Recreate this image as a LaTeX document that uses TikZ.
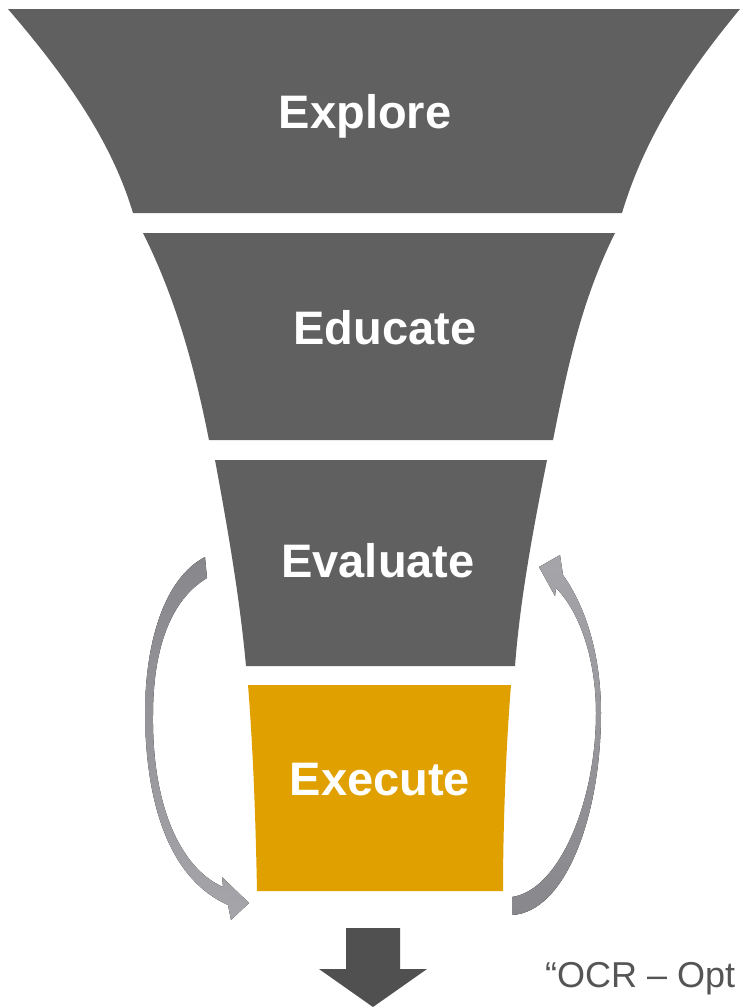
\documentclass[tikz,border=0pt]{standalone}
\usepackage{fontspec}
\setmainfont{Liberation Sans}
\definecolor{funnelgray}{HTML}{606060}
\definecolor{execgold}{HTML}{E0A100}
\definecolor{loopdark}{HTML}{88888C}
\definecolor{looplight}{HTML}{A6A6AA}
\definecolor{downgray}{HTML}{505050}
\definecolor{notegray}{HTML}{555555}
\tikzset{
  stage/.style={fill=funnelgray, draw=none},
  stagelabel/.style={anchor=base, text=white, font=\fontsize{47}{50}\selectfont\bfseries, inner sep=0pt},
  looparrowL/.style={top color=loopdark, bottom color=looplight, draw=none},
  looparrowR/.style={top color=looplight, bottom color=loopdark, draw=none},
}
\begin{document}
\begin{tikzpicture}[x=1pt,y=-1pt]
\useasboundingbox (0,0) rectangle (743,1007);
% Explore
\fill[stage] (8,9) -- (740,9) .. controls (681,80) and (643,143) .. (622,213)
  -- (133,213) .. controls (112,143) and (69,80) .. (8,9) -- cycle;
% Educate
\fill[stage] (143,233) -- (615,233) .. controls (581,301) and (567,370) .. (553,440)
  -- (209,440) .. controls (195,370) and (177,301) .. (143,233) -- cycle;
% Evaluate
\fill[stage] (215,460) -- (547,460) .. controls (533,530) and (520,600) .. (515,666)
  -- (246,666) .. controls (240,600) and (228,530) .. (215,460) -- cycle;
% Execute
\fill[execgold] (248,685) -- (511,685) .. controls (505,760) and (503,840) .. (503,891)
  -- (257,891) .. controls (256,840) and (254,760) .. (248,685) -- cycle;

\node[stagelabel] (explore) at (365,128) {Explore};
\node[stagelabel] (educate) at (385,344) {Educate};
\node[stagelabel] (evaluate) at (378,577) {Evaluate};
\node[stagelabel] (execute) at (380,795) {Execute};

% loop arrow, left (Evaluate -> Execute)
\coordinate (lt1) at (205,557);
\coordinate (lt2) at (207,578);
\fill[looparrowL] (lt1) .. controls (165,578) and (145,640) .. (145,715)
  .. controls (146,810) and (172,880) .. (228,905)
  -- (231,920) -- (249,903) -- (222,877) -- (223,887)
  .. controls (180,868) and (152,805) .. (153,715)
  .. controls (153,650) and (170,600) .. (lt2) -- cycle;
% loop arrow, right (Execute -> Evaluate)
\coordinate (rt1) at (512,897);
\coordinate (rt2) at (512,915);
\fill[looparrowR] (rt1) .. controls (560,890) and (596,800) .. (596,713)
  .. controls (596,660) and (580,612) .. (556,588)
  -- (555,596) -- (539,567) -- (560,555) -- (563,575)
  .. controls (588,610) and (601,660) .. (601,713)
  .. controls (601,815) and (566,912) .. (rt2) -- cycle;

% down arrow
\fill[downgray] (346,928) -- (400,928) -- (400,969) -- (427,969) -- (373,1007)
  -- (319,969) -- (346,969) -- cycle;

\node[anchor=base west, inner sep=0pt, text=notegray, font=\fontsize{36}{40}\selectfont] (note) at (545,987) {“OCR – Opt};
\end{tikzpicture}
\end{document}
